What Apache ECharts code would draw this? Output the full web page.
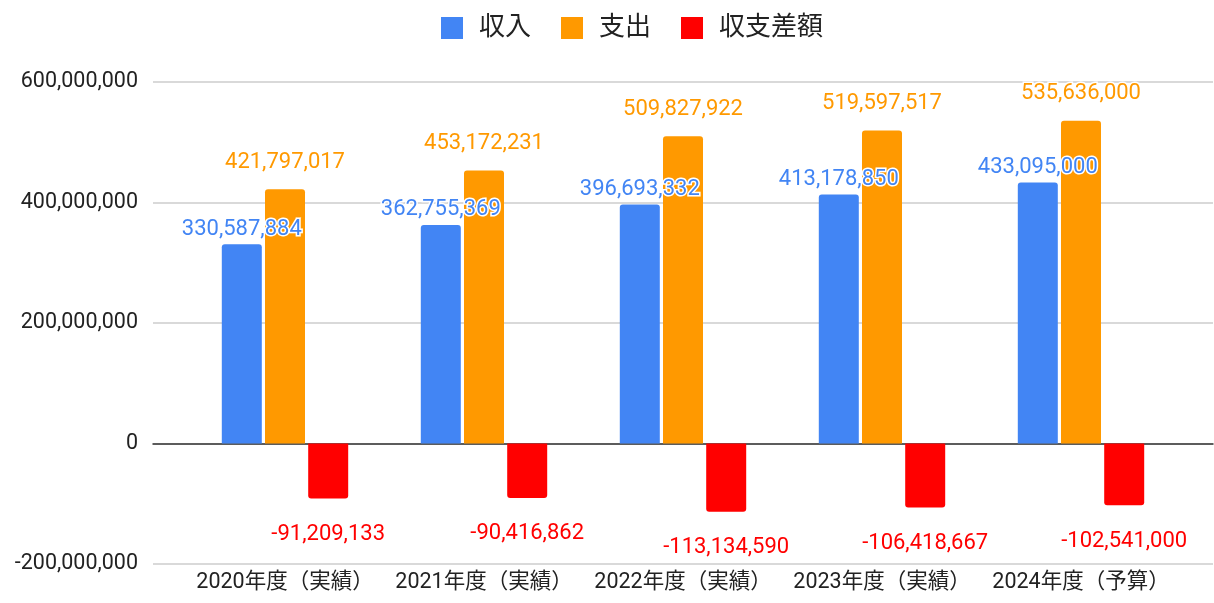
<!DOCTYPE html>
<html>
<head>
<meta charset="utf-8">
<script src="https://cdn.jsdelivr.net/npm/echarts@6/dist/echarts.min.js"></script>
<style>
  html, body { margin: 0; padding: 0; background: #fff; }
  #chart { width: 1214px; height: 603px; }
</style>
</head>
<body>
<div id="chart"></div>
<script>
// 年度
const categories = ["2020年度（実績）", "2021年度（実績）", "2022年度（実績）", "2023年度（実績）", "2024年度（予算）"];
// 収入
const income = [330587884, 362755369, 396693332, 413178850, 433095000];
// 支出
const expense = [421797017, 453172231, 509827922, 519597517, 535636000];
// 収支差額
const balance = [-91209133, -90416862, -113134590, -106418667, -102541000];
// y軸の範囲
const yMin = -200000000;
const yMax = 600000000;
const yStep = 200000000;

const fontFamily = 'Roboto, "Noto Sans CJK JP", sans-serif';
const fmt = (v) => Number(v).toLocaleString("en-US");

const labelStyle = (color, position, distance) => ({
  show: true,
  position: position,
  distance: distance,
  color: color,
  fontSize: 22,
  fontFamily: fontFamily,
  textBorderColor: "#fff",
  textBorderWidth: 3,
  formatter: (p) => fmt(p.value),
});

const chart = echarts.init(document.getElementById("chart"));

const option = {
  backgroundColor: "#fff",
  textStyle: { fontFamily: fontFamily },
  legend: {
    top: 10,
    left: 436,
    itemWidth: 22,
    itemHeight: 22,
    itemGap: 30,
    icon: "rect",
    textStyle: { fontSize: 26, color: "#222", fontFamily: fontFamily, padding: [0, 0, 0, 11] },
    data: ["収入", "支出", "収支差額"],
  },
  grid: [
    // 目盛り線・y軸ラベル用（横に広い）
    { left: 153, right: 1, top: 82, bottom: 39 },
    // 棒グラフ用
    { left: 185.5, right: 33.5, top: 82, bottom: 39 },
  ],
  xAxis: [
    {
      gridIndex: 0,
      type: "value",
      min: 0,
      max: 1,
      axisLabel: { show: false },
      axisTick: { show: false },
      splitLine: { show: false },
      axisLine: { show: true, onZero: true, lineStyle: { color: "#333", width: 1.5 } },
    },
    {
      gridIndex: 1,
      type: "category",
      data: categories,
      axisLine: { show: false },
      axisTick: { show: false },
      axisLabel: { interval: 0, color: "#222", fontSize: 21.5, margin: 8, fontFamily: fontFamily },
    },
  ],
  yAxis: [
    {
      gridIndex: 0,
      type: "value",
      min: yMin,
      max: yMax,
      interval: yStep,
      axisLine: { show: false },
      axisTick: { show: false },
      axisLabel: { color: "#222", fontSize: 21.5, margin: 15, formatter: fmt },
      splitLine: { lineStyle: { color: "#ccc", width: 1.5 } },
    },
    {
      gridIndex: 1,
      type: "value",
      min: yMin,
      max: yMax,
      interval: yStep,
      show: false,
      splitLine: { show: false },
    },
  ],
  series: [
    {
      name: "収入",
      type: "bar",
      xAxisIndex: 1,
      yAxisIndex: 1,
      barWidth: 40,
      barGap: "8%",
      itemStyle: { color: "#4285f4", borderRadius: [3, 3, 0, 0] },
      label: labelStyle("#4285f4", "top", 4),
      data: income,
    },
    {
      name: "支出",
      type: "bar",
      xAxisIndex: 1,
      yAxisIndex: 1,
      barWidth: 40,
      barGap: "8%",
      itemStyle: { color: "#ff9900", borderRadius: [3, 3, 0, 0] },
      label: labelStyle("#ff9900", "top", 16),
      data: expense,
    },
    {
      name: "収支差額",
      type: "bar",
      xAxisIndex: 1,
      yAxisIndex: 1,
      barWidth: 40,
      barGap: "8%",
      itemStyle: { color: "#ff0000", borderRadius: [0, 0, 3, 3] },
      label: labelStyle("#ff0000", "bottom", 25),
      data: balance,
    },
  ],
};

chart.setOption(option);
</script>
</body>
</html>
